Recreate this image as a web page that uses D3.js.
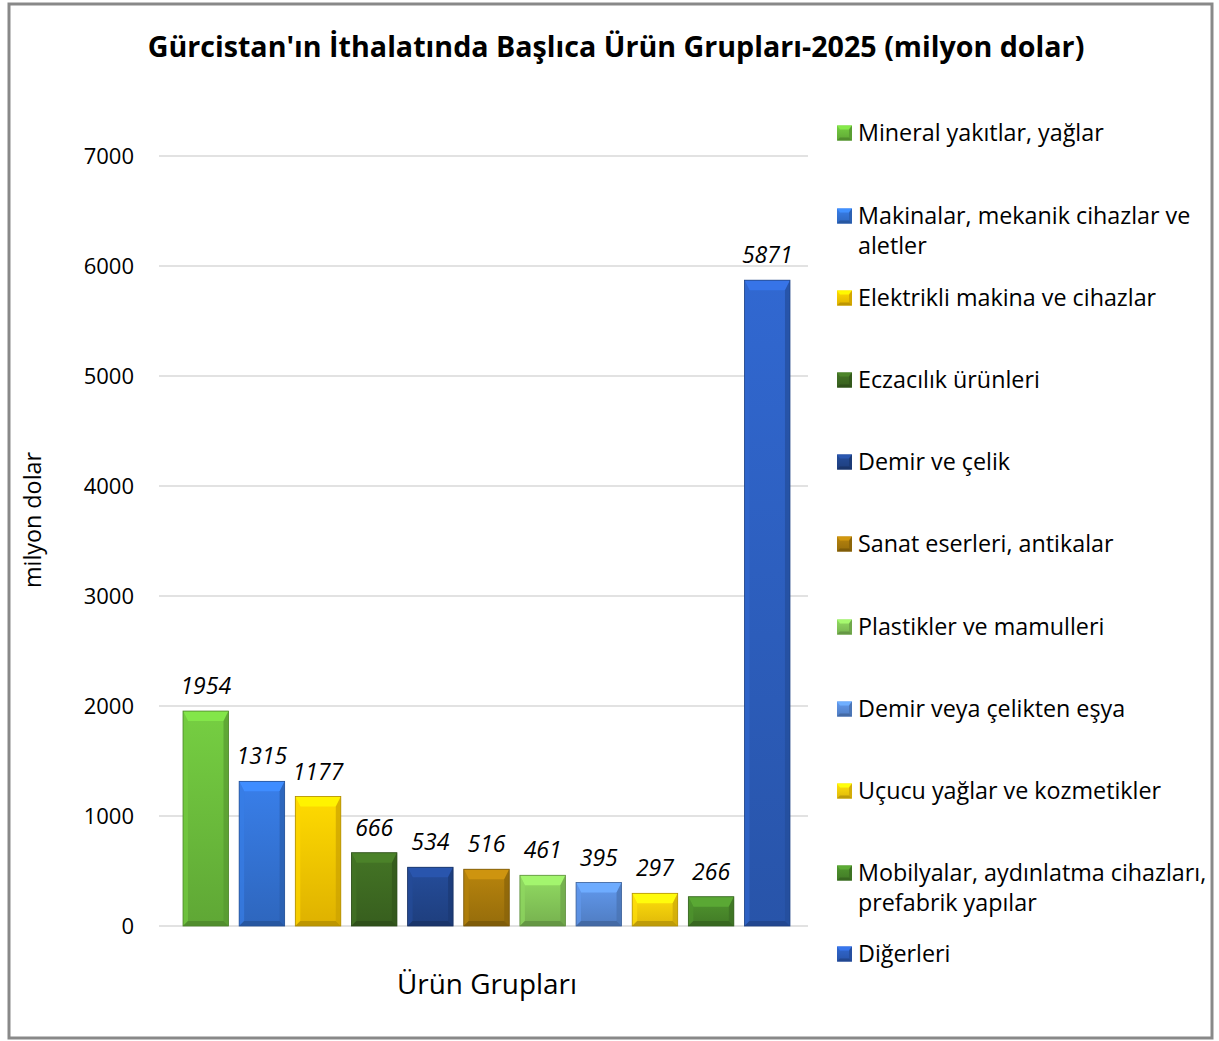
<!DOCTYPE html>
<html>
<head>
<meta charset="utf-8">
<script src="https://cdn.jsdelivr.net/npm/d3@7"></script>
<style>
  body { margin: 0; background: #fff; }
  svg text { font-family: "Open Sans", sans-serif; }
</style>
</head>
<body>
<div class="chart"></div>
<script>
// urun gruplari - 2025 ithalat (milyon dolar)
const groups = [
    "Mineral yakıtlar, yağlar",
    "Makinalar, mekanik cihazlar ve aletler",
    "Elektrikli makina ve cihazlar",
    "Eczacılık ürünleri",
    "Demir ve çelik",
    "Sanat eserleri, antikalar",
    "Plastikler ve mamulleri",
    "Demir veya çelikten eşya",
    "Uçucu yağlar ve kozmetikler",
    "Mobilyalar, aydınlatma cihazları, prefabrik yapılar",
    "Diğerleri"
];
const values = [1954, 1315, 1177, 666, 534, 516, 461, 395, 297, 266, 5871];
const legendLines = [
    ["Mineral yakıtlar, yağlar"],
    ["Makinalar, mekanik cihazlar ve", "aletler"],
    ["Elektrikli makina ve cihazlar"],
    ["Eczacılık ürünleri"],
    ["Demir ve çelik"],
    ["Sanat eserleri, antikalar"],
    ["Plastikler ve mamulleri"],
    ["Demir veya çelikten eşya"],
    ["Uçucu yağlar ve kozmetikler"],
    ["Mobilyalar, aydınlatma cihazları,", "prefabrik yapılar"],
    ["Diğerleri"]
];
const colors = ["#6cbd3c", "#3474d6", "#fcc800", "#3e6b22", "#22468e", "#a97a0c",
                "#86c95a", "#5a8ddb", "#fdcf0a", "#4a8a2b", "#2d5fbf"];
const yTicks = [0, 1000, 2000, 3000, 4000, 5000, 6000, 7000];

const W = 1219, H = 1041;
const svg = d3.select(".chart").append("svg")
    .attr("width", W).attr("height", H);

// frame
svg.append("rect")
    .attr("x", 9).attr("y", 4).attr("width", 1203).attr("height", 1034)
    .attr("fill", "#fff").attr("stroke", "#898989").attr("stroke-width", 3);

// shrink/stretch a text to the width seen in the picture
function fitWidth(sel, target) {
    const n = sel.node();
    const w = n.getComputedTextLength();
    const fs = parseFloat(sel.style("font-size"));
    sel.style("font-size", (fs * target / w).toFixed(2) + "px");
}

const title = svg.append("text")
    .attr("x", 616).attr("y", 57)
    .attr("text-anchor", "middle")
    .style("font-size", "26px").style("font-weight", "bold")
    .text("Gürcistan'ın İthalatında Başlıca Ürün Grupları-2025 (milyon dolar)");
fitWidth(title, 937);

const yScale = d3.scaleLinear().domain([0, 7000]).range([926, 156]);
const xScale = d3.scaleBand().domain(groups).range([177.4, 795.6])
    .paddingInner(0.19).paddingOuter(0.1);

// grid
svg.append("g").selectAll("line")
    .data(yTicks).enter().append("line")
    .attr("x1", 159).attr("x2", 808)
    .attr("y1", d => yScale(d)).attr("y2", d => yScale(d))
    .attr("stroke", "#d9d9d9").attr("stroke-width", 1.5);

const yAxis = d3.axisLeft(yScale).tickValues(yTicks).tickFormat(d3.format("d"))
    .tickSize(0).tickPadding(0);
const yg = svg.append("g").attr("transform", "translate(134,0)").call(yAxis);
yg.select(".domain").remove();
yg.selectAll("text").style("font-size", "22px").attr("fill", "#000")
    .style("font-family", "'Open Sans', sans-serif");

const ylab = svg.append("text")
    .attr("transform", "translate(41,520) rotate(-90)")
    .attr("text-anchor", "middle")
    .style("font-size", "18px")
    .text("milyon dolar");
fitWidth(ylab, 136);

const xlab = svg.append("text")
    .attr("x", 487).attr("y", 994)
    .attr("text-anchor", "middle")
    .style("font-size", "24px")
    .text("Ürün Grupları");
fitWidth(xlab, 180);

// gradients
const defs = svg.append("defs");
colors.forEach((c, i) => {
    const g = defs.append("linearGradient").attr("id", "grad" + i)
        .attr("x1", 0).attr("x2", 0).attr("y1", 0).attr("y2", 1);
    g.append("stop").attr("offset", "0%").attr("stop-color", d3.color(c).brighter(0.25));
    g.append("stop").attr("offset", "100%").attr("stop-color", d3.color(c).darker(0.35));
});

// beveled bars
function bevelPolys(x0, y0, w, h, bt, bs) {
    const x1 = x0 + w, y1 = y0 + h;
    bt = Math.min(bt, h / 2);
    return {
        top: [[x0, y0], [x1, y0], [x1 - bs, y0 + bt], [x0 + bs, y0 + bt]],
        left: [[x0, y0], [x0 + bs, y0 + bt], [x0 + bs, y1 - bs], [x0, y1]],
        right: [[x1, y0], [x1, y1], [x1 - bs, y1 - bs], [x1 - bs, y0 + bt]],
        bottom: [[x0, y1], [x0 + bs, y1 - bs], [x1 - bs, y1 - bs], [x1, y1]]
    };
}
const line = pts => "M" + pts.map(q => q.join(",")).join("L") + "Z";

const bars = svg.append("g").selectAll("g")
    .data(groups).enter().append("g");

bars.each(function(d, i) {
    const g = d3.select(this);
    const x0 = xScale(d), w = xScale.bandwidth();
    const y0 = yScale(values[i]), h = yScale(0) - y0;
    const c = d3.color(colors[i]);
    g.append("rect")
        .attr("x", x0).attr("y", y0).attr("width", w).attr("height", h)
        .attr("fill", "url(#grad" + i + ")");
    const p = bevelPolys(x0, y0, w, h, 10, 5);
    g.append("path").attr("d", line(p.top)).attr("fill", c.brighter(0.55));
    g.append("path").attr("d", line(p.left)).attr("fill", c.brighter(0.2)).style("opacity", 0.7);
    g.append("path").attr("d", line(p.right)).attr("fill", c.darker(0.6)).style("opacity", 0.7);
    g.append("path").attr("d", line(p.bottom)).attr("fill", c.darker(0.8));
    g.append("rect")
        .attr("x", x0).attr("y", y0).attr("width", w).attr("height", h)
        .attr("fill", "none").attr("stroke", c.darker(1)).attr("stroke-width", 0.8);
});

// value labels
svg.append("g").selectAll("text")
    .data(groups).enter().append("text")
    .attr("x", d => xScale(d) + xScale.bandwidth() / 2)
    .attr("y", (d, i) => yScale(values[i]) - 17)
    .attr("text-anchor", "middle")
    .style("font-size", "23px").style("font-style", "italic")
    .text((d, i) => values[i]);

// legend
const legend = svg.append("g").attr("id", "legend");
const legendY = [133, 216, 298, 380, 462, 544, 627, 709, 791, 873, 954];
legendLines.forEach((lines, i) => {
    const ly = legendY[i];
    const c = d3.color(colors[i]);
    const s = 15, lx = 837, ty = ly - s / 2;
    legend.append("rect").attr("x", lx).attr("y", ty).attr("width", s).attr("height", s)
        .attr("fill", "url(#grad" + i + ")");
    const p = bevelPolys(lx, ty, s, s, 4, 3);
    legend.append("path").attr("d", line(p.top)).attr("fill", c.brighter(0.6));
    legend.append("path").attr("d", line(p.right)).attr("fill", c.darker(0.5));
    legend.append("path").attr("d", line(p.bottom)).attr("fill", c.darker(0.8));
    lines.forEach((t, k) => {
        legend.append("text")
            .attr("x", 858).attr("y", ly + 8 + k * 30)
            .style("font-size", "23.3px")
            .text(t);
    });
});
</script>
</body>
</html>
